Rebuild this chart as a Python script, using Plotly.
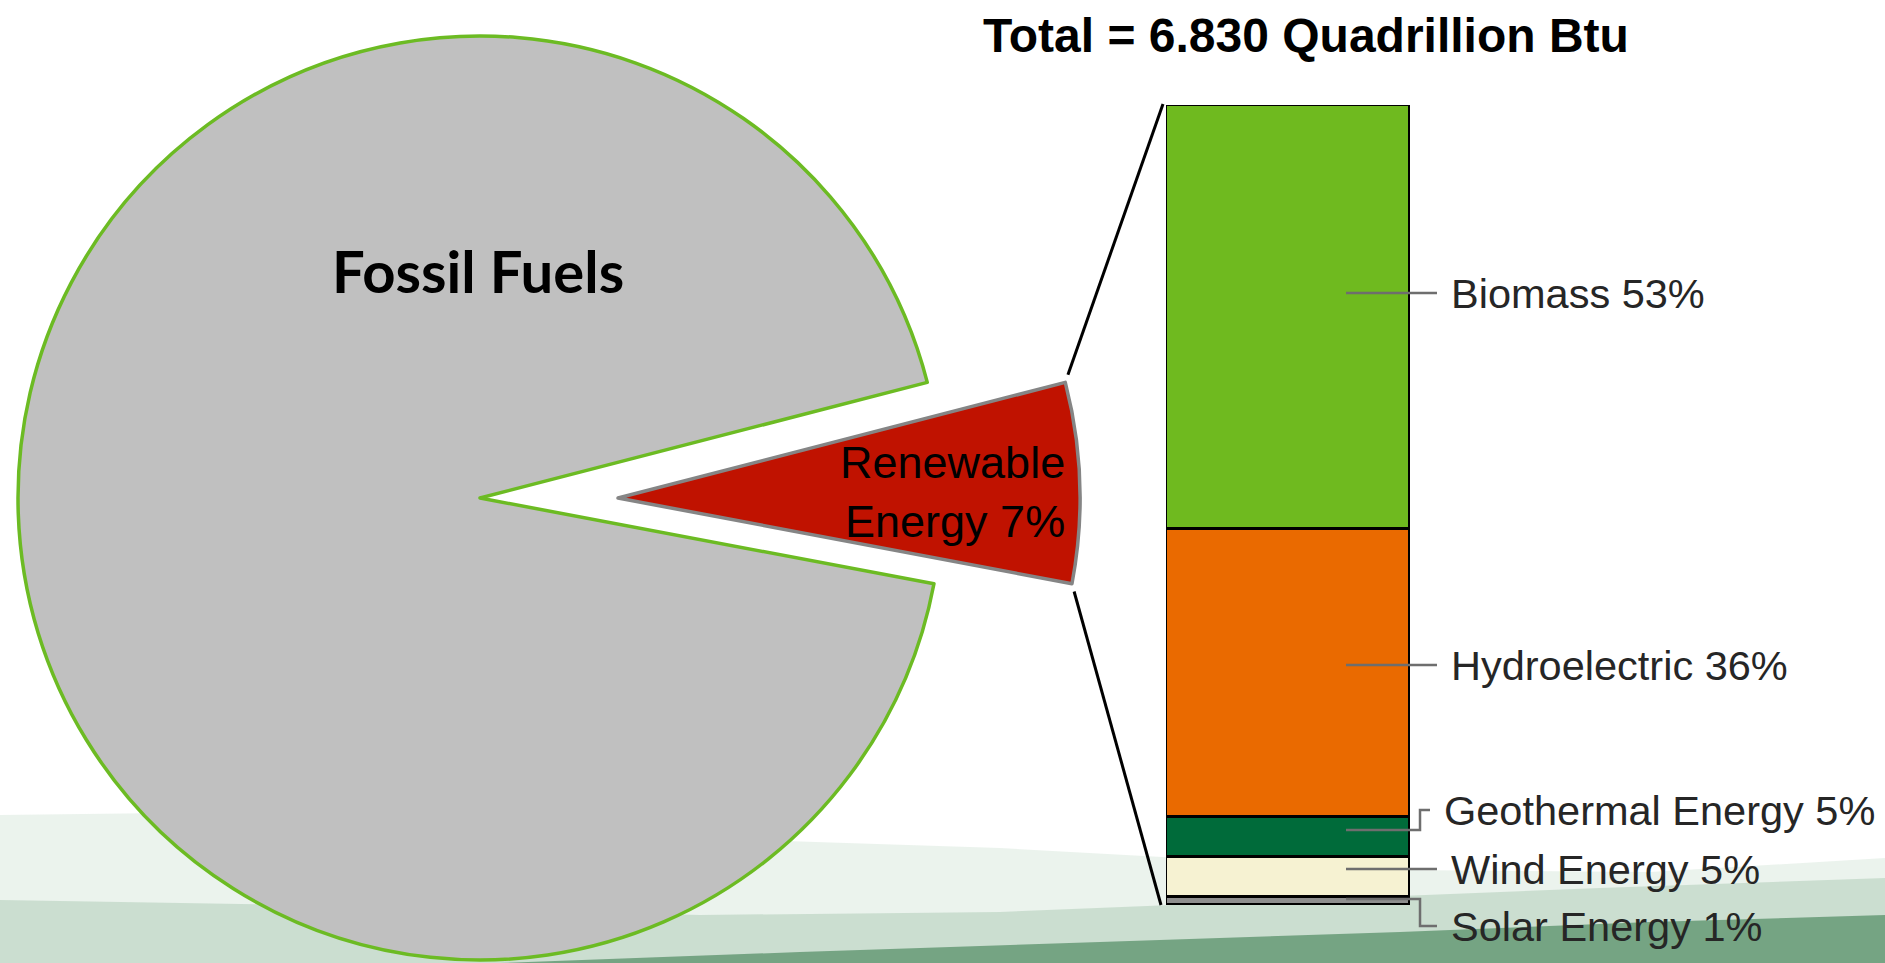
import math
import plotly.graph_objects as go

W, H = 1885, 963

# Share of total energy consumption
sources = ["Renewable Energy", "Fossil Fuels"]
shares = [7, 93]

# Renewable energy breakdown, listed top of the bar to bottom
categories = ["Biomass", "Hydroelectric", "Geothermal Energy", "Wind Energy", "Solar Energy"]
percents = [53, 36, 5, 5, 1]

title_text = "Total = 6.830 Quadrillion Btu"

# ---- styling -------------------------------------------------------------
bar_colors = ["#6fba1f", "#ea6a00", "#006b3a", "#f6f2d2", "#8e8e8e"]
fossil_fill = "#c0c0c0"
fossil_line = "#6cbb23"
renew_fill = "#c01200"
renew_line = "#858585"
SANS = "Liberation Sans, Arial, sans-serif"

# pie geometry (pixels)
PIE_CX, PIE_CY, PIE_R = 480, 498, 462
PULL_PX = 138
START_DEG = 75.5          # clockwise from 12 o'clock

# bar geometry (pixels)
BAR_L, BAR_R, BAR_T, BAR_B = 1166, 1410, 105, 905


def px(x):
    return x / W


def py(y):
    return 1 - y / H


def pie_domain(cx, cy, r):
    return dict(x=[px(cx - r), px(cx + r)], y=[py(cy + r), py(cy - r)])


clear = "rgba(0,0,0,0)"
fig = go.Figure()

# main pie: fossil fuels, with the renewable slice left empty
fig.add_trace(go.Pie(
    labels=sources, values=shares, sort=False, direction="clockwise",
    rotation=START_DEG, textinfo="none", hoverinfo="label+percent",
    marker=dict(colors=[clear, fossil_fill],
                line=dict(color=[clear, fossil_line], width=[0, 3.5])),
    domain=pie_domain(PIE_CX, PIE_CY, PIE_R), showlegend=False,
))
# exploded renewable slice
fig.add_trace(go.Pie(
    labels=sources, values=shares, sort=False, direction="clockwise",
    rotation=START_DEG, textinfo="none", hoverinfo="label+percent",
    marker=dict(colors=[renew_fill, clear],
                line=dict(color=[renew_line, clear], width=[3.5, 0])),
    domain=pie_domain(PIE_CX + PULL_PX, PIE_CY, PIE_R), showlegend=False,
))

# stacked bar, bottom segment first
for name, val, col in reversed(list(zip(categories, percents, bar_colors))):
    fig.add_trace(go.Bar(
        x=[0], y=[val], name=name, width=1,
        marker=dict(color=col, line=dict(color="black", width=3.5)),
        hovertemplate=name + ": %{y}%<extra></extra>", showlegend=False,
    ))

total = sum(percents)


def bar_y_px(v):
    return BAR_B - v / total * (BAR_B - BAR_T)


def paper_path(points, close=False):
    s = " ".join(("M" if i == 0 else "L") + f" {px(x):.5f} {py(y):.5f}"
                 for i, (x, y) in enumerate(points))
    return s + (" Z" if close else "")


shapes = []

# misty green landscape along the bottom edge
haze = [
    ([(0, 815), (250, 812), (600, 835), (1000, 848), (1400, 870), (1650, 872), (1885, 858),
      (1885, 963), (0, 963)], "rgba(222,235,225,0.6)"),
    ([(0, 900), (300, 905), (700, 915), (1000, 912), (1300, 900), (1600, 888), (1885, 878),
      (1885, 963), (0, 963)], "rgba(165,198,172,0.45)"),
    ([(500, 963), (800, 952), (1100, 942), (1400, 932), (1650, 922), (1885, 915),
      (1885, 963)], "rgba(60,125,80,0.6)"),
]
for pts, col in haze:
    shapes.append(dict(type="path", xref="paper", yref="paper", path=paper_path(pts, True),
                       fillcolor=col, line=dict(width=0), layer="below"))

# connector lines from the exploded slice to the bar
def slice_corner(deg):
    a = math.radians(deg)
    return (PIE_CX + PULL_PX + PIE_R * math.sin(a), PIE_CY - PIE_R * math.cos(a))


end_deg = START_DEG + shares[0] / sum(shares) * 360
for deg, target in ((START_DEG, (BAR_L - 3, bar_y_px(total) - 1)),
                    (end_deg, (BAR_L - 5, bar_y_px(0)))):
    cx, cy = slice_corner(deg)
    dx, dy = target[0] - cx, target[1] - cy
    n = math.hypot(dx, dy)
    sx, sy = cx + dx / n * 8, cy + dy / n * 8
    shapes.append(dict(type="line", xref="paper", yref="paper",
                       x0=px(sx), y0=py(sy), x1=px(target[0]), y1=py(target[1]),
                       line=dict(color="black", width=3)))

# leader lines and labels
cum = 0
mids = {}
for name, val in reversed(list(zip(categories, percents))):
    mids[name] = cum + val / 2
    cum += val

# (inner y offset, label y offset, x shift) in pixels relative to segment middle
offsets = {"Biomass": (-24, -24, 0), "Hydroelectric": (-8, -8, 0),
           "Geothermal Energy": (-7, -27, -7), "Wind Energy": (-8, -8, 0),
           "Solar Energy": (-2, 25, 0)}
LEAD_IN, LEAD_ELBOW, LEAD_OUT = 1346, 1420, 1437
annotations = []
for name, val in zip(categories, percents):
    ym = bar_y_px(mids[name])
    d_in, d_lab, d_x = offsets[name]
    y_in, y_lab = ym + d_in, ym + d_lab
    if abs(y_in - y_lab) < 1:
        pts = [(LEAD_IN, y_in), (LEAD_OUT, y_in)]
    else:
        pts = [(LEAD_IN, y_in), (LEAD_ELBOW, y_in), (LEAD_ELBOW, y_lab),
               (LEAD_OUT + d_x, y_lab)]
    shapes.append(dict(type="path", xref="paper", yref="paper", path=paper_path(pts),
                       line=dict(color="#6e6e6e", width=2.5)))
    annotations.append(dict(
        xref="paper", yref="paper", x=px(LEAD_OUT + 12 + d_x), y=py(y_lab),
        xanchor="left", yanchor="middle", showarrow=False,
        text=f"{name} {val}%", font=dict(family=SANS, size=41.5, color="#262626"),
    ))

annotations += [
    dict(xref="paper", yref="paper", x=px(478), y=py(270), showarrow=False,
         xanchor="center", yanchor="middle", text=f"<b>{sources[1]}</b>",
         font=dict(family="Lato, sans-serif", size=58, color="black")),
    dict(xref="paper", yref="paper", x=px(1067), y=py(492), showarrow=False,
         xanchor="right", yanchor="middle", align="right",
         text=f"Renewable<br>Energy {shares[0]}%",
         font=dict(family=SANS, size=45, color="black")),
    dict(xref="paper", yref="paper", x=px(1306), y=py(35), showarrow=False,
         xanchor="center", yanchor="middle", text=f"<b>{title_text}</b>",
         font=dict(family=SANS, size=48, color="black")),
]

fig.update_layout(
    width=W, height=H, margin=dict(l=0, r=0, t=0, b=0),
    paper_bgcolor="white", plot_bgcolor="rgba(0,0,0,0)",
    barmode="stack", bargap=0,
    xaxis=dict(domain=[px(BAR_L), px(BAR_R)], range=[-0.5, 0.5], visible=False, fixedrange=True),
    yaxis=dict(domain=[py(BAR_B), py(BAR_T)], range=[0, total], visible=False, fixedrange=True),
    shapes=shapes, annotations=annotations, showlegend=False,
)

fig.write_html("out.html")
